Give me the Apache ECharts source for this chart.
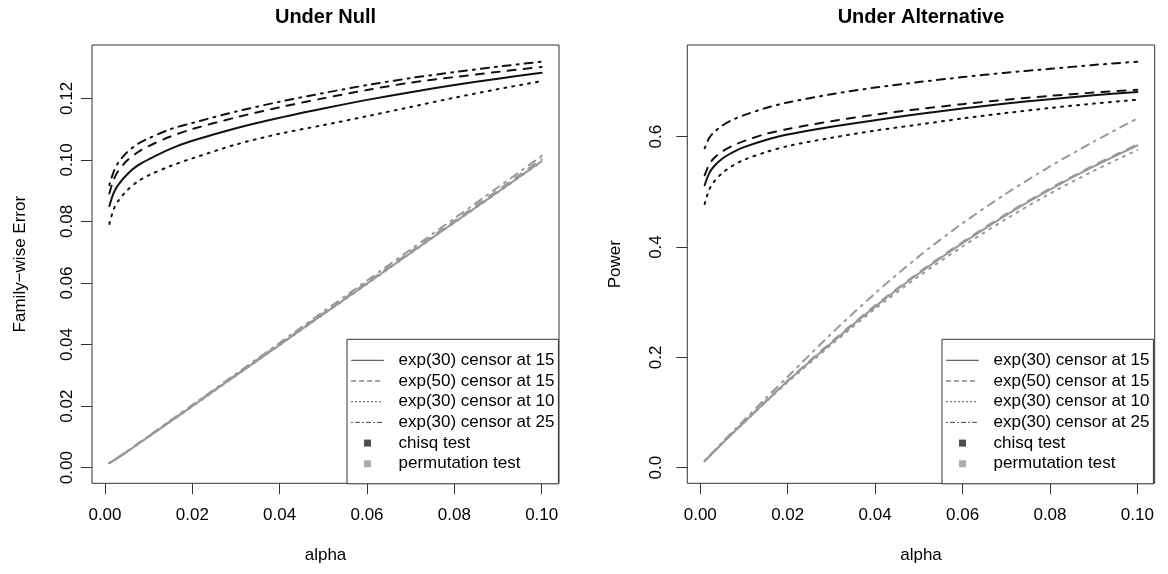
<!DOCTYPE html>
<html><head><meta charset="utf-8">
<script src="https://cdn.jsdelivr.net/npm/echarts@6/dist/echarts.min.js"></script>
<style>html,body{margin:0;padding:0;background:#fff}#c{width:1168px;height:574px}</style>
</head><body><div id="c"></div>
<script>
// ---- data ----
const alpha = [0.001,0.002,0.003,0.005,0.0075,0.01,0.015,0.02,0.03,0.04,0.05,0.06,0.07,0.08,0.09,0.1];
const lineNames = ['exp(30) censor at 15','exp(50) censor at 15','exp(30) censor at 10','exp(30) censor at 25'];
const testNames = ['chisq test','permutation test'];
const xTicks = [0,0.02,0.04,0.06,0.08,0.1];
const nullTicks = [0,0.02,0.04,0.06,0.08,0.1,0.12];
const altTicks = [0,0.2,0.4,0.6];

// Under Null, chisq test (black)
const nullChisqSolid   = [0.0850,0.0893,0.0918,0.0952,0.0982,0.1002,0.1036,0.1062,0.1103,0.1137,0.1167,0.1195,0.1220,0.1243,0.1264,0.1283];
const nullChisqDashed  = [0.0891,0.0936,0.0963,0.0997,0.1025,0.1045,0.1076,0.1100,0.1138,0.1171,0.1200,0.1227,0.1251,0.1269,0.1286,0.1302];
const nullChisqDotted  = [0.0792,0.0840,0.0866,0.0900,0.0930,0.0950,0.0980,0.1005,0.1050,0.1085,0.1113,0.1142,0.1172,0.1202,0.1230,0.1256];
const nullChisqDashDot = [0.0918,0.0962,0.0990,0.1024,0.1052,0.1070,0.1100,0.1120,0.1157,0.1189,0.1217,0.1243,0.1266,0.1285,0.1303,0.1319];
// Under Null, permutation test (grey)
const nullPermSolid   = [0.0015,0.0023,0.0032,0.0051,0.0076,0.0101,0.0150,0.0200,0.0300,0.0399,0.0499,0.0598,0.0698,0.0797,0.0896,0.0996];
const nullPermDashed  = [0.0015,0.0024,0.0033,0.0052,0.0077,0.0102,0.0152,0.0202,0.0302,0.0402,0.0502,0.0602,0.0702,0.0802,0.0902,0.1003];
const nullPermDotted  = [0.0015,0.0023,0.0032,0.0051,0.0076,0.0100,0.0150,0.0199,0.0299,0.0398,0.0498,0.0597,0.0697,0.0796,0.0895,0.0994];
const nullPermDashDot = [0.0016,0.0024,0.0034,0.0053,0.0078,0.0103,0.0154,0.0204,0.0305,0.0406,0.0507,0.0608,0.0709,0.0810,0.0911,0.1013];
// Under Alternative, chisq test (black)
const altChisqSolid   = [0.512,0.533,0.545,0.560,0.572,0.581,0.594,0.604,0.618,0.630,0.641,0.651,0.660,0.668,0.675,0.681];
const altChisqDashed  = [0.530,0.549,0.560,0.573,0.584,0.592,0.605,0.614,0.628,0.640,0.650,0.659,0.667,0.674,0.680,0.685];
const altChisqDotted  = [0.478,0.503,0.517,0.534,0.548,0.558,0.572,0.583,0.598,0.611,0.622,0.633,0.643,0.652,0.660,0.667];
const altChisqDashDot = [0.579,0.597,0.607,0.620,0.631,0.639,0.652,0.662,0.677,0.689,0.699,0.708,0.716,0.723,0.730,0.736];
// Under Alternative, permutation test (grey)
const altPermSolid   = [0.012,0.020,0.028,0.044,0.063,0.082,0.120,0.157,0.226,0.292,0.352,0.407,0.458,0.504,0.546,0.584];
const altPermDashed  = [0.012,0.020,0.028,0.044,0.064,0.083,0.121,0.158,0.228,0.294,0.354,0.409,0.460,0.506,0.548,0.586];
const altPermDotted  = [0.012,0.020,0.028,0.044,0.063,0.082,0.119,0.155,0.223,0.288,0.347,0.401,0.451,0.497,0.538,0.576];
const altPermDashDot = [0.012,0.021,0.029,0.046,0.066,0.086,0.126,0.165,0.243,0.316,0.383,0.443,0.497,0.546,0.591,0.633];

// ---- styles ----
const FONT = 'Liberation Sans, Arial, Helvetica, sans-serif';
const BLACK = '#111111', GREY = '#999999';
const dashes = ['solid',[8,8],[2,6],[2,6,8,6]];
const legendDashes = ['solid',[4,4],[1,3],[1,3,4,3]];

const panels = [
  {x:0, y:0, chisq:[nullChisqSolid,nullChisqDashed,nullChisqDotted,nullChisqDashDot],
   perm:[nullPermSolid,nullPermDashed,nullPermDotted,nullPermDashDot]},
  {x:1, y:1, chisq:[altChisqSolid,altChisqDashed,altChisqDotted,altChisqDashDot],
   perm:[altPermSolid,altPermDashed,altPermDotted,altPermDashDot]}
];

const series = [];
panels.forEach(p => {
  [[p.perm, GREY],[p.chisq, BLACK]].forEach(([sets,color]) => {
    sets.forEach((vals,k) => {
      series.push({
        type:'line', name: lineNames[k], xAxisIndex:p.x, yAxisIndex:p.y,
        data: alpha.map((a,i)=>[a, vals[i]]),
        symbol:'none', smooth:0.3, silent:true, animation:false,
        lineStyle:{color, width:2, type:dashes[k], cap:'round'}
      });
    });
  });
});
series.push({type:'scatter', name:testNames[0], xAxisIndex:0, yAxisIndex:0, data:[], itemStyle:{color:'#222'}});
series.push({type:'scatter', name:testNames[1], xAxisIndex:0, yAxisIndex:0, data:[], itemStyle:{color:GREY}});

const legendData = lineNames.map((n,k)=>({name:n, itemStyle:{color:'rgba(0,0,0,0)', borderWidth:0, opacity:0},
  lineStyle:{color:'#444', width:1, type:legendDashes[k], opacity:1}}))
  .concat([{name:testNames[0], icon:'path://M0,0L10,0L10,10L0,10Z', itemStyle:{color:'#222'}},
           {name:testNames[1], icon:'path://M0,0L10,0L10,10L0,10Z', itemStyle:{color:GREY}}]);

function mkLegend(left){
  return {orient:'vertical', left, top:339.3, padding:[11,4,10,4], itemGap:0.7,
    itemWidth:32, itemHeight:7, selectedMode:false, backgroundColor:'#fff',
    borderColor:'#333', borderWidth:1, borderRadius:0,
    textStyle:{fontFamily:FONT, fontSize:17, lineHeight:20, color:'#000', padding:[0,0,0,10]},
    data:legendData};
}

const txt = {fontFamily:FONT, fontSize:17, color:'#000'};
function xAxis(gridIndex){
  return {type:'value', gridIndex, min:-0.00297, max:0.10396, position:'bottom',
    axisLine:{show:false, onZero:false}, splitLine:{show:false},
    axisTick:{show:true, inside:false, customValues:xTicks, length:11, lineStyle:{color:'#333', width:1}},
    axisLabel:{customValues:xTicks, formatter:v=>v.toFixed(2), margin:24, ...txt},
    name:'alpha', nameLocation:'middle', nameGap:64, nameTextStyle:txt};
}
function yAxis(gridIndex, min, max, ticks, dec, margin, name){
  return {type:'value', gridIndex, min, max, position:'left',
    axisLine:{show:false, onZero:false}, splitLine:{show:false},
    axisTick:{show:true, inside:false, customValues:ticks, length:11, lineStyle:{color:'#333', width:1}},
    axisLabel:{customValues:ticks, formatter:v=>v.toFixed(dec), rotate:90, margin, ...txt},
    name, nameLocation:'middle', nameGap:63, nameTextStyle:txt};
}

const option = {
  backgroundColor:'#fff', animation:false,
  title:[
    {text:'Under Null', left:325.5, top:7, padding:0, textAlign:'center',
     textStyle:{fontFamily:FONT, fontSize:20, fontWeight:'bold', color:'#000'}},
    {text:'Under Alternative', left:921, top:7, padding:0, textAlign:'center',
     textStyle:{fontFamily:FONT, fontSize:20, fontWeight:'bold', color:'#000'}}
  ],
  grid:[
    {left:92, top:45, width:467, height:438.3, show:true, borderColor:'#333', borderWidth:1, backgroundColor:'transparent'},
    {left:687.3, top:45, width:467.4, height:438.3, show:true, borderColor:'#333', borderWidth:1, backgroundColor:'transparent'}
  ],
  xAxis:[xAxis(0), xAxis(1)],
  yAxis:[
    yAxis(0, -0.00507, 0.13733, nullTicks, 2, 16, 'Family\u2212wise Error'),
    yAxis(1, -0.02828, 0.7662, altTicks, 1, 22, 'Power')
  ],
  legend:[mkLegend(347), mkLegend(942)],
  series
};
const chart = echarts.init(document.getElementById('c'), null, {renderer:'canvas'});
chart.setOption(option);
</script></body></html>
